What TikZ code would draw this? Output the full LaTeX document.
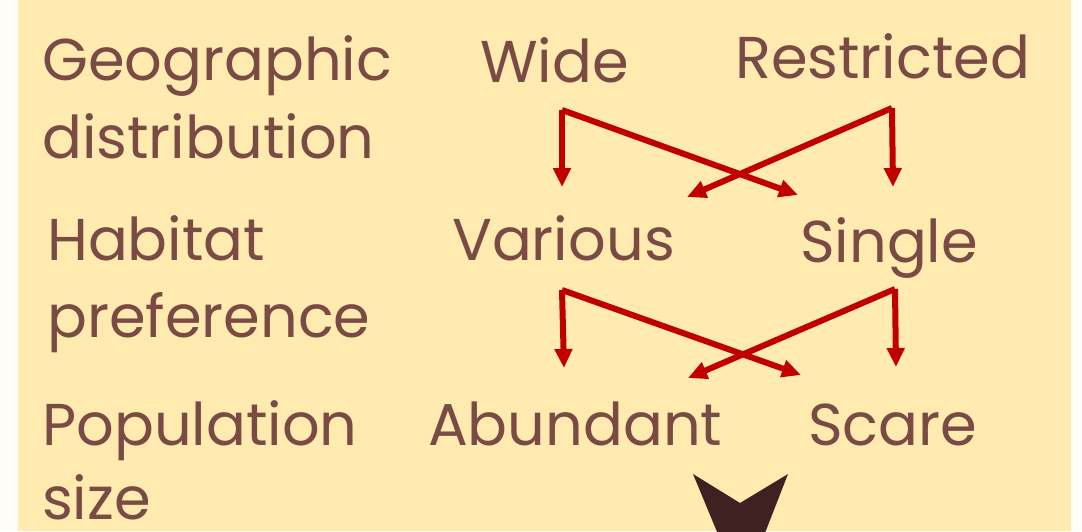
\documentclass[tikz,border=0pt]{standalone}
\usepackage{fontspec}
\setmainfont{Poppins}
\usetikzlibrary{arrows.meta}
\definecolor{bgy}{RGB}{255,234,176}
\definecolor{marg}{RGB}{255,253,247}
\definecolor{txt}{RGB}{122,74,69}
\definecolor{arr}{RGB}{192,0,0}
\definecolor{dark}{RGB}{62,34,34}
\tikzset{
  lbl/.style={anchor=base west, inner sep=0pt, text=txt, font=\fontsize{59}{62}\selectfont},
  opt/.style={anchor=base west, inner sep=0pt, text=txt, font=\fontsize{59}{62}\selectfont},
  link/.style={draw=arr, line width=6pt, -{Triangle[length=19pt,width=17pt]}, line join=miter}
}
\begin{document}
\begin{tikzpicture}[x=1pt,y=-1pt]
\useasboundingbox (0,0) rectangle (1082,531);
\fill[marg] (0,0) rectangle (1082,531);
\fill[bgy] (18,0) rectangle (1071,531);
\node[lbl] (geo) at (42,80) {Geographic};
\node[lbl] (dist) at (42,158) {distribution};
\node[lbl] (hab) at (47,260) {Habitat};
\node[lbl] (pref) at (47,337) {preference};
\node[lbl] (pop) at (42,445) {Population};
\node[lbl] (size) at (42,519) {size};
\node[opt] (wide) at (480,82) {Wide};
\node[opt] (restr) at (735,78) {Restricted};
\node[opt] (var) at (452,260) {Various};
\node[opt] (sing) at (800,262) {Single};
\node[opt] (abun) at (428,445) {Abundant};
\node[opt] (scare) at (808,445) {Scare};
% row 1 arrows
\coordinate (w0) at (562,110);
\coordinate (r0) at (892,108);
\coordinate (v1) at (562,187);
\coordinate (s1) at (798,195);
\coordinate (s2) at (893,187);
\coordinate (v2) at (687,197);
\draw[link] (w0) -- (v1);
\draw[link] (w0) -- (s1);
\draw[link] (r0) -- (s2);
\draw[link] (r0) -- (v2);
% row 2 arrows
\coordinate (va0) at (562,290);
\coordinate (si0) at (895,289);
\coordinate (a1) at (564,368);
\coordinate (c1) at (801,375);
\coordinate (c2) at (896,367);
\coordinate (a2) at (688,378);
\draw[link] (va0) -- (a1);
\draw[link] (va0) -- (c1);
\draw[link] (si0) -- (c2);
\draw[link] (si0) -- (a2);
% bottom arrowhead
\begin{scope}
\clip (0,0) rectangle (1082,531);
\fill[dark] (693,474) -- (740,503) -- (788,474) -- (742,592) -- cycle;
\end{scope}
\end{tikzpicture}
\end{document}
